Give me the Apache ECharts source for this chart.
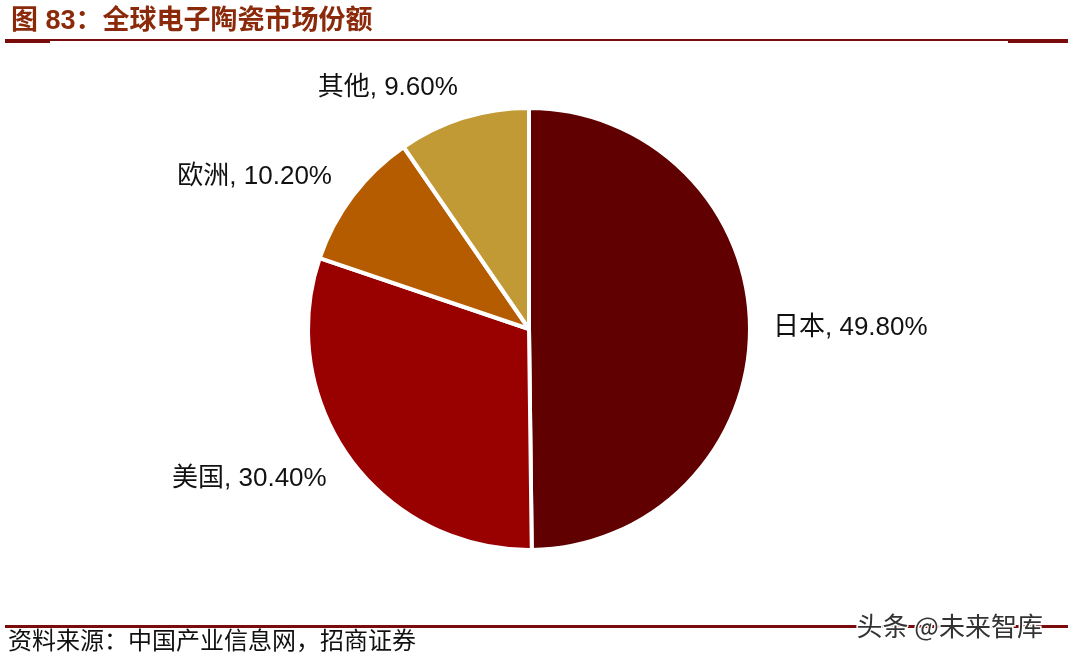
<!DOCTYPE html>
<html>
<head>
<meta charset="utf-8">
<script src="https://cdn.jsdelivr.net/npm/echarts@6/dist/echarts.min.js"></script>
<style>html,body{margin:0;padding:0;background:#fff}#c{width:1075px;height:661px}</style>
</head>
<body>
<div id="c"></div>
<script>
const categories = ['日本', '美国', '欧洲', '其他'];
const values = [49.80, 30.40, 10.20, 9.60];
const colors = ['#600000', '#990000', '#B65C00', '#C29A35'];
const labelLineLengths = [18, 34, 31, 32];

const chart = echarts.init(document.getElementById('c'), null, {renderer: 'canvas'});
const data = categories.map((c, i) => ({
  name: c,
  value: values[i],
  itemStyle: {color: colors[i]},
  labelLine: {show: false, length: labelLineLengths[i], length2: 0}
}));

chart.setOption({
  backgroundColor: '#fff',
  animation: false,
  title: {
    text: '图 83：全球电子陶瓷市场份额',
    left: 6, top: 3,
    textStyle: {color: '#8B2A0A', fontSize: 27, fontWeight: 'bold', fontFamily: '"Liberation Sans", "Noto Sans CJK SC", sans-serif'}
  },
  graphic: [
    {type: 'rect', shape: {x: 5, y: 39, width: 1063, height: 2}, style: {fill: '#7B0C0C'}},
    {type: 'rect', shape: {x: 5, y: 39, width: 45, height: 4}, style: {fill: '#7B0C0C'}},
    {type: 'rect', shape: {x: 1008, y: 39, width: 60, height: 4}, style: {fill: '#7B0C0C'}},
    {type: 'rect', shape: {x: 5, y: 625, width: 1063, height: 3}, style: {fill: '#7B0C0C'}},
    {type: 'text', left: 8, top: 628, style: {text: '资料来源：中国产业信息网，招商证券', fill: '#111', fontSize: 24, fontFamily: '"Noto Sans CJK SC", sans-serif'}},
    {type: 'text', left: 855, top: 612, z: 10, style: {text: '头条 @未来智库', fill: '#333', stroke: '#fff', lineWidth: 3, fontSize: 26, fontFamily: '"Noto Sans CJK SC", sans-serif'}}
  ],
  series: [{
    type: 'pie',
    center: [529, 329],
    radius: 221,
    startAngle: 90,
    clockwise: true,
    avoidLabelOverlap: false,
    data: data,
    itemStyle: {borderColor: '#fff', borderWidth: 4},
    label: {
      show: true,
      position: 'outside',
      formatter: p => p.name + ', ' + p.value.toFixed(2) + '%',
      color: '#111',
      fontSize: 26,
      fontFamily: '"Liberation Sans", "Noto Sans CJK SC", sans-serif'
    },
    labelLayout: p => (p.labelRect.x < 529 ? {dx: 9} : {}),
    labelLine: {show: false},
    emphasis: {disabled: true}
  }]
});
</script>
</body>
</html>
